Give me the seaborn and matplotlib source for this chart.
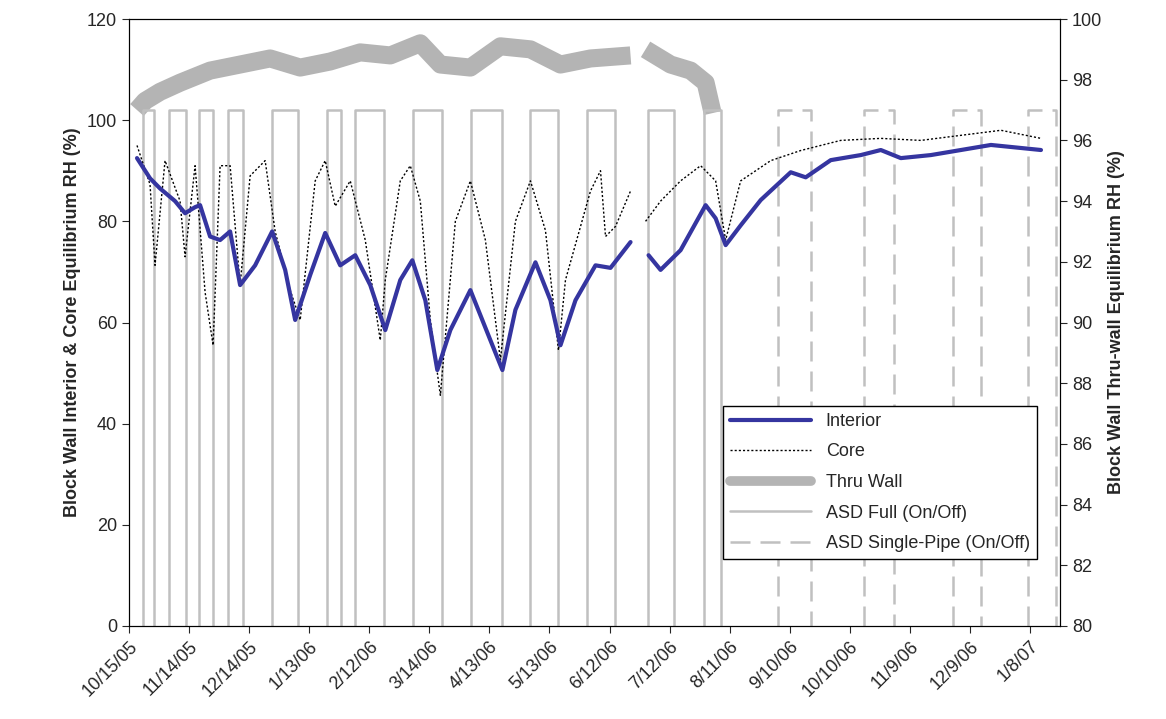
import matplotlib
matplotlib.use('Agg')
import matplotlib.pyplot as plt
import numpy as np
import pandas as pd
import seaborn as sns

sns.set_style('white')
plt.rcParams['font.family'] = ['Liberation Sans', 'DejaVu Sans']

start = pd.Timestamp('2005-10-15')

# days since 10/15/05
interior_day = [4, 10.5, 15.5, 23, 28, 33, 35.5, 40.5, 45.5, 50.5, 55.5, 63, 71.5, 78, 83, 90.5, 98, 105.5,
                113, 120.5, 128, 135.5, 141.5, 148, 154, 160.5, 170.5, 180.5, 186.5, 193, 203, 210.5, 215.5,
                223, 233, 240.5, 250.5, None, 259.5, 265.5, 275.5, 288, 293, 298, 305.5, 315.5, 330.5, 338,
                350.5, 365.5, 375.5, 385.5, 400.5, 415.5, 430.5, 445.5, 455.5]
interior_val = [92.5, 88.5, 86.5, 84, 81.6, 82.8, 83.2, 77, 76.3, 78, 67.4, 71.3, 78, 70.4, 60.5, 69.4, 77.7,
                71.3, 73.3, 67.4, 58.5, 68.4, 72.3, 64.4, 50.6, 58.5, 66.4, 56.5, 50.6, 62.5, 71.9, 64.4, 55.5,
                64.4, 71.3, 70.8, 75.9, None, 73.3, 70.4, 74.3, 83.2, 80.6, 75.3, 79.2, 84.2, 89.7, 88.7,
                92.1, 93.1, 94.1, 92.5, 93.1, 94.1, 95.1, 94.5, 94.1]

core_day = [4, 10.5, 13, 18, 25.5, 28, 33, 38, 42, 45.5, 50.5, 55.5, 60.5, 68, 73, 80.5, 85.5, 93, 98, 103,
            110.5, 118, 125.5, 128, 135.5, 140.5, 145.5, 150.5, 155.5, 163, 170.5, 178, 185.5, 193, 200.5,
            208, 214.5, 218, 230.5, 235.5, 238, 243, 250.5, None, 258, 265.5, 275.5, 285.5, 293, 298, 305.5,
            320.5, 335.5, 355.5, 375.5, 395.5, 415.5, 435.5, 455.5]
core_val = [95, 87.3, 71.3, 92, 84, 73, 91, 66, 55.5, 91, 91, 67.4, 89, 92, 78, 66.4, 60.5, 88, 92, 83, 88,
            76.3, 56.5, 68.4, 88, 91, 84, 60.5, 45.6, 80, 88, 76.3, 52.6, 80, 88, 78.2, 54.5, 68.4, 86, 90,
            77, 79, 86, None, 80, 84, 88, 91, 88, 76.3, 88, 92, 94, 96, 96.4, 96, 97, 98, 96.4]

wall_day = [4, 8, 15.5, 25.5, 40.5, 55.5, 70.5, 85.5, 100.5, 115.5, 130.5, 145.5, 155.5, 170.5, 185.5, 200.5,
            215.5, 230.5, 250.5, None, 258, 270.5, 280.5, 288, 291.5]
wall_val = [97.0, 97.3, 97.6, 97.9, 98.3, 98.5, 98.7, 98.4, 98.6, 98.9, 98.8, 99.2, 98.5, 98.4, 99.1, 99.0,
            98.5, 98.7, 98.8, None, 99.0, 98.5, 98.3, 97.9, 96.9]

full_on = [(7, 12.5), (20, 28.5), (35, 42), (49.5, 57), (71.5, 84.5), (99, 106), (113, 127.5), (142, 156.5),
           (171, 186.5), (200.5, 214.5), (229, 242.5), (259, 272), (287, 295.5)]
single_on = [(324, 340.5), (367, 382), (411.5, 425.5), (449, 463)]


def to_dates(days):
    return pd.to_datetime([start + pd.Timedelta(days=d) if d is not None else pd.NaT for d in days])


fig = plt.figure(figsize=(11.66, 7.19), dpi=100)
ax = fig.add_axes([129 / 1166, 1 - 626 / 719, (1060 - 129) / 1166, (626 - 19) / 719])
ax2 = ax.twinx()

wall = pd.DataFrame({'date': to_dates(wall_day), 'rh': np.array(wall_val, dtype=float)})
ax2.plot(wall['date'], wall['rh'], color='#b4b4b4', lw=13, solid_capstyle='butt', zorder=1)
for periods, style in ((full_on, {}), (single_on, {'dashes': (8, 4)})):
    for a, b in periods:
        ax2.plot(to_dates([a, a, b, b]), [80, 97, 97, 80], color='#c0c0c0', lw=1.8, zorder=2, **style)

core = pd.DataFrame({'date': to_dates(core_day), 'rh': np.array(core_val, dtype=float)})
interior = pd.DataFrame({'date': to_dates(interior_day), 'rh': np.array(interior_val, dtype=float)})
ax.plot(core['date'], core['rh'], color='black', lw=1, ls=(0, (1.5, 1.5)), zorder=3)
ax.plot(interior['date'], interior['rh'], color='#3535a0', lw=3, zorder=4)
ax.set_zorder(ax2.get_zorder() + 1)
ax.patch.set_visible(False)

ax.set_xlim(start, start + pd.Timedelta(days=465))
ax.set_ylim(0, 120)
ax2.set_ylim(80, 100)
ticks = [start + pd.Timedelta(days=30 * i) for i in range(16)]
ax.set_xticks(ticks)
ax.set_xticklabels([f'{t.month}/{t.day}/{t.strftime("%y")}' for t in ticks], rotation=45, ha='right',
                   rotation_mode='anchor', fontsize=13)
ax.set_yticks(range(0, 121, 20))
ax2.set_yticks(range(80, 101, 2))
ax.tick_params(axis='y', labelsize=13, length=5, direction='out', left=True)
ax.tick_params(axis='x', length=5, direction='out', bottom=True)
ax2.tick_params(axis='y', labelsize=13, length=5, direction='out', right=True)
ax.set_ylabel('Block Wall Interior & Core Equilibrium RH (%)', fontsize=13, fontweight='bold')
ax2.set_ylabel('Block Wall Thru-wall Equilibrium RH (%)', fontsize=13, fontweight='bold')
for a in (ax, ax2):
    for s in a.spines.values():
        s.set_color('black')

h = [plt.Line2D([], [], color='#3535a0', lw=3),
     plt.Line2D([], [], color='black', lw=1, ls=(0, (1.5, 1.5))),
     plt.Line2D([], [], color='#b4b4b4', lw=7),
     plt.Line2D([], [], color='#c0c0c0', lw=1.8),
     plt.Line2D([], [], color='#c0c0c0', lw=1.8, dashes=(8, 4))]
leg = ax.legend(h, ['Interior', 'Core', 'Thru Wall', 'ASD Full (On/Off)', 'ASD Single-Pipe (On/Off)'],
                loc='lower right', bbox_to_anchor=(0.985, 0.095), fontsize=13, fancybox=False,
                handlelength=4.5, labelspacing=0.75, edgecolor='black', framealpha=1)
leg.get_frame().set_linewidth(1)

fig.savefig('out.png', dpi=100)
